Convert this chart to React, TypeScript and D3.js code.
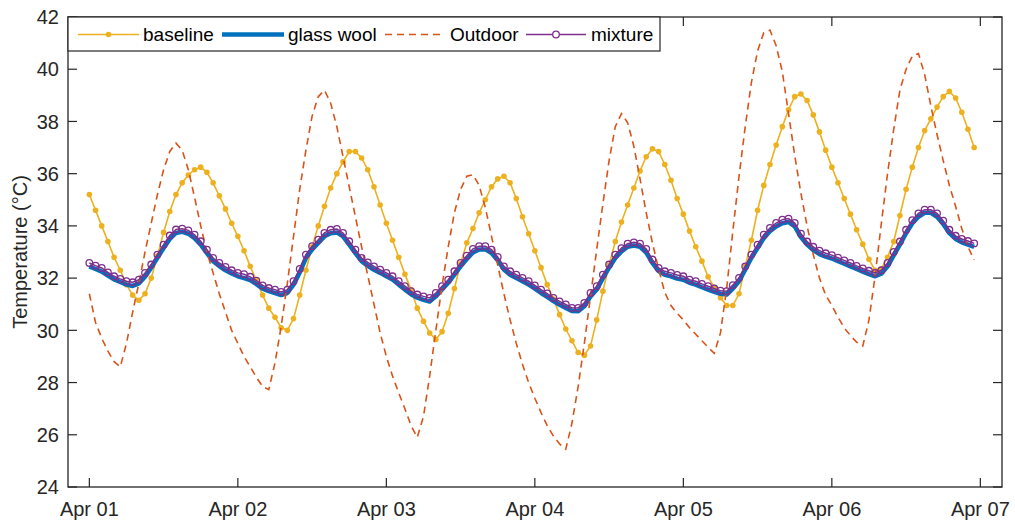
import React, { useEffect } from 'react';
import * as d3 from 'd3';

// hourly readings, Apr 01 00:00 -> Apr 06 23:00
const baseline = [
  35.2, 34.6, 34.0, 33.4, 32.8, 32.3, 31.75, 31.35, 31.15, 31.4, 32.0, 32.85, 33.75, 34.55, 35.2, 35.65, 35.95, 36.15, 36.25, 36.05, 35.65, 35.15, 34.65, 34.1,
  33.6, 33.05, 32.45, 31.9, 31.35, 30.85, 30.5, 30.1, 30.0, 30.45, 31.35, 32.3, 33.2, 34.0, 34.75, 35.45, 36.0, 36.45, 36.85, 36.85, 36.6, 36.15, 35.5, 34.8,
  34.1, 33.45, 32.8, 32.15, 31.55, 30.85, 30.35, 29.9, 29.65, 29.95, 30.65, 31.6, 32.55, 33.35, 33.9, 34.5, 35.0, 35.5, 35.8, 35.9, 35.65, 35.05, 34.35, 33.7,
  33.05, 32.4, 31.75, 31.2, 30.6, 30.05, 29.6, 29.15, 29.05, 29.4, 30.4, 31.5, 32.5, 33.4, 34.15, 34.8, 35.45, 36.1, 36.65, 36.95, 36.85, 36.35, 35.75, 35.05,
  34.45, 33.8, 33.2, 32.65, 32.05, 31.65, 31.25, 30.95, 30.95, 31.4, 32.45, 33.45, 34.6, 35.55, 36.35, 37.1, 37.8, 38.45, 38.95, 39.05, 38.8, 38.25, 37.6, 36.9,
  36.25, 35.65, 35.05, 34.45, 33.85, 33.3, 32.72, 32.3, 32.35, 32.8, 33.4, 34.4, 35.4, 36.25, 37.0, 37.65, 38.1, 38.55, 38.95, 39.15, 38.9, 38.35, 37.7, 37.0,
];

const glassWool = [
  32.45, 32.35, 32.25, 32.1, 31.95, 31.85, 31.75, 31.7, 31.8, 32.05, 32.4, 32.78, 33.15, 33.5, 33.73, 33.77, 33.7, 33.53, 33.28, 32.96, 32.65, 32.46, 32.3, 32.18,
  32.07, 32.0, 31.92, 31.77, 31.6, 31.5, 31.43, 31.35, 31.43, 31.75, 32.22, 32.77, 33.1, 33.35, 33.6, 33.72, 33.75, 33.6, 33.28, 32.96, 32.65, 32.47, 32.32, 32.2,
  32.07, 31.95, 31.75, 31.56, 31.38, 31.25, 31.17, 31.1, 31.3, 31.56, 31.82, 32.13, 32.45, 32.73, 32.98, 33.1, 33.1, 32.96, 32.68, 32.33, 32.13, 32.0, 31.88, 31.75,
  31.6, 31.43, 31.28, 31.12, 30.98, 30.86, 30.74, 30.73, 30.92, 31.3, 31.56, 32.0, 32.4, 32.77, 33.02, 33.2, 33.25, 33.2, 32.98, 32.58, 32.27, 32.13, 32.07, 31.98,
  31.94, 31.82, 31.75, 31.65, 31.56, 31.47, 31.4, 31.37, 31.6, 31.88, 32.32, 32.78, 33.15, 33.53, 33.8, 33.98, 34.1, 34.15, 33.98, 33.57, 33.28, 33.07, 32.92, 32.82,
  32.75, 32.65, 32.55, 32.45, 32.35, 32.25, 32.15, 32.07, 32.17, 32.45, 32.87, 33.28, 33.72, 34.1, 34.35, 34.5, 34.5, 34.35, 34.07, 33.72, 33.5, 33.37, 33.28, 33.2,
];

const outdoor = [
  31.4, 30.3, 29.7, 29.2, 28.8, 28.6, 29.5, 30.7, 31.8, 33.0, 34.1, 35.2, 36.15, 36.85, 37.17, 36.9, 36.15, 35.1, 34.0, 33.0, 32.2, 31.4, 30.7, 30.0,
  29.5, 29.0, 28.6, 28.2, 27.85, 27.73, 28.75, 30.15, 31.8, 33.6, 35.4, 36.9, 38.2, 38.95, 39.2, 38.7, 37.8, 36.65, 35.5, 34.35, 33.2, 32.1, 31.0, 29.9,
  29.0, 28.25, 27.6, 27.0, 26.35, 25.9, 26.7, 28.25, 30.0, 31.7, 33.2, 34.5, 35.4, 35.9, 35.96, 35.55, 34.7, 33.6, 32.5, 31.4, 30.4, 29.5, 28.7, 28.0,
  27.4, 26.85, 26.35, 25.95, 25.65, 25.45, 26.45, 27.85, 29.5, 31.3, 33.1, 34.85, 36.5, 37.8, 38.3, 37.95, 37.05, 35.8, 34.5, 33.35, 32.35, 31.45, 30.95, 30.65,
  30.4, 30.1, 29.85, 29.6, 29.35, 29.12, 29.9, 31.6, 33.8, 35.9, 37.8, 39.5, 40.7, 41.4, 41.5, 40.9, 39.9, 38.3, 36.7, 35.25, 34.0, 32.9, 32.0, 31.35,
  30.95, 30.5, 30.1, 29.8, 29.55, 29.4, 30.4, 32.1, 34.1, 36.0, 37.7, 39.2, 40.0, 40.5, 40.6, 39.8, 38.6, 37.5, 36.5, 35.55, 34.75, 33.9, 33.2, 32.7,
];

const mixture = [
  32.58, 32.48, 32.39, 32.22, 32.07, 31.97, 31.88, 31.84, 31.94, 32.2, 32.52, 32.9, 33.28, 33.63, 33.86, 33.89, 33.83, 33.66, 33.41, 33.09, 32.77, 32.58, 32.43, 32.3,
  32.2, 32.15, 32.05, 31.9, 31.72, 31.62, 31.56, 31.47, 31.56, 31.88, 32.35, 32.9, 33.22, 33.47, 33.73, 33.85, 33.88, 33.73, 33.41, 33.09, 32.77, 32.6, 32.45, 32.32,
  32.2, 32.07, 31.88, 31.69, 31.5, 31.37, 31.3, 31.24, 31.43, 31.69, 31.94, 32.26, 32.58, 32.86, 33.12, 33.22, 33.22, 33.09, 32.81, 32.45, 32.26, 32.13, 32.01, 31.88,
  31.72, 31.56, 31.41, 31.24, 31.11, 30.99, 30.86, 30.86, 31.05, 31.43, 31.69, 32.13, 32.52, 32.9, 33.15, 33.32, 33.37, 33.32, 33.12, 32.71, 32.39, 32.26, 32.2, 32.12,
  32.07, 31.94, 31.88, 31.78, 31.69, 31.6, 31.52, 31.5, 31.73, 32.01, 32.45, 32.9, 33.28, 33.66, 33.92, 34.11, 34.24, 34.28, 34.11, 33.7, 33.4, 33.2, 33.05, 32.95,
  32.88, 32.78, 32.68, 32.58, 32.47, 32.37, 32.28, 32.2, 32.3, 32.58, 33.0, 33.4, 33.85, 34.22, 34.48, 34.62, 34.62, 34.48, 34.2, 33.85, 33.62, 33.5, 33.42, 33.33,
];

const yTicks = [24, 26, 28, 30, 32, 34, 36, 38, 40, 42];
const seriesNames = ['baseline', 'glass wool', 'Outdoor', 'mixture'];

const W = 1015;
const H = 524;
const margin = { top: 17, right: 13, bottom: 37, left: 68 };
const FONT = '"Liberation Sans", Arial, Helvetica, sans-serif';
const INK = '#262626';
const colors = { baseline: '#EDB120', glass: '#0072BD', outdoor: '#D95319', mixture: '#7E2F8E' };
const DASH = '7,5';

const App = () => {
  useEffect(() => {
    document.body.style.margin = '0';
  }, []);

  const t0 = Date.UTC(2021, 3, 1);
  const times = baseline.map((_, i) => new Date(t0 + i * 3600e3));

  const x = d3.scaleUtc()
    .domain([new Date(t0 - 3.45 * 3600e3), new Date(t0 + (6 * 24 + 3.5) * 3600e3)])
    .range([margin.left, W - margin.right]);
  const y = d3.scaleLinear().domain([24, 42]).range([H - margin.bottom, margin.top]);

  const line = d3.line<number>()
    .x((_, i) => x(times[i]))
    .y(d => y(d));

  const xTicks = x.ticks(d3.utcDay.every(1));
  const fmt = d3.utcFormat('%b %d');
  const left = margin.left, right = W - margin.right, top = margin.top, bottom = H - margin.bottom;
  const tickLen = 9;

  // legend layout
  const legY = 34.5;
  const legend = [
    { name: seriesNames[0], x0: 78, x1: 139, tx: 143 },
    { name: seriesNames[1], x0: 222, x1: 284, tx: 288 },
    { name: seriesNames[2], x0: 385, x1: 441, tx: 450 },
    { name: seriesNames[3], x0: 526, x1: 586, tx: 591 },
  ];

  return (
    <svg width={W} height={H} style={{ position: 'absolute', left: 0, top: 0, background: '#fff' }} fontFamily={FONT}>
      <rect x={0} y={0} width={W} height={H} fill="#fff" />

      {/* series */}
      <path d={line(baseline) || ''} fill="none" stroke={colors.baseline} strokeWidth={1.6} />
      {baseline.map((v, i) => (
        <circle key={'b' + i} cx={x(times[i])} cy={y(v)} r={2.8} fill={colors.baseline} />
      ))}
      <path d={line(glassWool) || ''} fill="none" stroke={colors.glass} strokeWidth={4.5} strokeLinejoin="round" />
      <path d={line(outdoor) || ''} fill="none" stroke={colors.outdoor} strokeWidth={1.6} strokeDasharray={DASH} />
      <path d={line(mixture) || ''} fill="none" stroke={colors.mixture} strokeWidth={1.5} />
      {mixture.map((v, i) => (
        <circle key={'m' + i} cx={x(times[i])} cy={y(v)} r={3.3} fill="none" stroke={colors.mixture} strokeWidth={1.3} />
      ))}

      {/* axes box */}
      <rect x={left} y={top} width={right - left} height={bottom - top} fill="none" stroke={INK} strokeWidth={1.3} />
      {xTicks.map(d => (
        <g key={+d}>
          <line x1={x(d)} x2={x(d)} y1={bottom} y2={bottom - tickLen} stroke={INK} strokeWidth={1.2} />
          <line x1={x(d)} x2={x(d)} y1={top} y2={top + tickLen} stroke={INK} strokeWidth={1.2} />
          <text x={x(d)} y={bottom + 29} textAnchor="middle" fontSize={20} fill={INK}>{fmt(d)}</text>
        </g>
      ))}
      {yTicks.map(v => (
        <g key={v}>
          <line x1={left} x2={left + tickLen} y1={y(v)} y2={y(v)} stroke={INK} strokeWidth={1.2} />
          <line x1={right} x2={right - tickLen} y1={y(v)} y2={y(v)} stroke={INK} strokeWidth={1.2} />
          <text x={left - 9} y={y(v)} dy="0.36em" textAnchor="end" fontSize={20} fill={INK}>{v}</text>
        </g>
      ))}
      <text transform={`translate(27,${(top + bottom) / 2}) rotate(-90)`} textAnchor="middle" fontSize={20} fill={INK}>
        Temperature (°C)
      </text>

      {/* legend */}
      <rect x={left} y={top} width={592} height={34} fill="#fff" stroke={INK} strokeWidth={1.2} />
      {legend.map((l, i) => (
        <g key={l.name}>
          {i === 0 && <>
            <line x1={l.x0} x2={l.x1} y1={legY} y2={legY} stroke={colors.baseline} strokeWidth={1.6} />
            <circle cx={(l.x0 + l.x1) / 2} cy={legY} r={2.8} fill={colors.baseline} />
          </>}
          {i === 1 && <line x1={l.x0} x2={l.x1} y1={legY} y2={legY} stroke={colors.glass} strokeWidth={4.5} />}
          {i === 2 && <line x1={l.x0} x2={l.x1} y1={legY} y2={legY} stroke={colors.outdoor} strokeWidth={1.6} strokeDasharray={DASH} />}
          {i === 3 && <>
            <line x1={l.x0} x2={l.x1} y1={legY} y2={legY} stroke={colors.mixture} strokeWidth={1.5} />
            <circle cx={(l.x0 + l.x1) / 2} cy={legY} r={3.3} fill="#fff" stroke={colors.mixture} strokeWidth={1.3} />
          </>}
          <text x={l.tx} y={legY} dy="0.36em" fontSize={19} fill="#000">{l.name}</text>
        </g>
      ))}
    </svg>
  );
};

export default App;
